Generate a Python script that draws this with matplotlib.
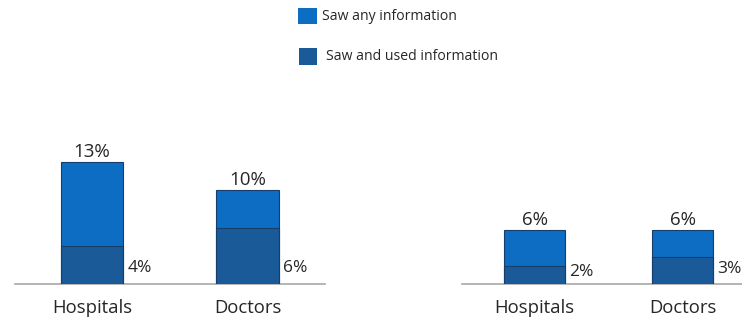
import matplotlib
matplotlib.use("Agg")
import matplotlib.pyplot as plt
from matplotlib.patches import Rectangle

plt.rcParams['font.family'] = ['Open Sans', 'DejaVu Sans']

categories = ["Hospitals", "Doctors"]
left_any = [13, 10]
left_used = [4, 6]
right_any = [6, 6]
right_used = [2, 3]
legend_labels = ["Saw any information", "Saw and used information"]

C_ANY = "#0D6DC3"
C_USED = "#1A5A99"
C_EDGE = "#153E68"
C_AXIS = "#A8A8A8"
C_TEXT = "#262626"

W, H = 742, 325
fig = plt.figure(figsize=(W / 100, H / 100), dpi=100)


def fx(px):
    return px / W


def fy(py):
    return 1 - py / H


def make_panel(x0, x1, scale, xlim, width, any_vals, used_vals, inner_offsets):
    base, top = 284, 150
    ax = fig.add_axes([fx(x0), fy(base), fx(x1 - x0), (base - top) / H])
    ax.set_ylim(0, (base - top) / scale)
    ax.set_xlim(*xlim)
    xs = list(range(len(categories)))
    ax.bar(xs, any_vals, width=width, color=C_ANY, edgecolor=C_EDGE, linewidth=0.8, zorder=2)
    ax.bar(xs, used_vals, width=width, color=C_USED, edgecolor=C_EDGE, linewidth=0.8, zorder=3)
    for x, a, u, off in zip(xs, any_vals, used_vals, inner_offsets):
        ax.annotate(f"{a}%", (x, a), xytext=(0, 0.5), textcoords="offset points",
                    ha="center", va="bottom", fontsize=13.5, color=C_TEXT)
        ax.annotate(f"{u}%", (x + width / 2, 0), xytext=(3, off * 0.72), textcoords="offset points",
                    ha="left", va="center", fontsize=12.5, color=C_TEXT)
    for s in ["left", "right", "top"]:
        ax.spines[s].set_visible(False)
    ax.spines["bottom"].set_color(C_AXIS)
    ax.spines["bottom"].set_linewidth(1.2)
    ax.set_yticks([])
    ax.set_xticks(xs)
    ax.set_xticklabels(categories, fontsize=13.3, color=C_TEXT)
    ax.tick_params(axis="x", length=0, pad=11)
    ax.patch.set_alpha(0)
    return ax


make_panel(15, 325, 9.4, (-0.495, 1.498), 0.40, left_any, left_used, [16, 16.5])
make_panel(462, 742, 9.0, (-0.49, 1.40), 0.41, right_any, right_used, [11.5, 15])

# legend
for (sx0, sy0, sx1, sy1, tx, ty), lab, col in zip(
        [(298, 8, 317, 24, 322, 17), (299, 48, 317, 65, 326, 57)],
        legend_labels, [C_ANY, C_USED]):
    fig.patches.append(Rectangle((fx(sx0), fy(sy1)), fx(sx1 - sx0), (sy1 - sy0) / H,
                                 transform=fig.transFigure, facecolor=col,
                                 edgecolor="none", figure=fig))
    fig.text(fx(tx), fy(ty), lab, ha="left", va="center", fontsize=10.1, color=C_TEXT)

fig.savefig("out.png", dpi=100)
